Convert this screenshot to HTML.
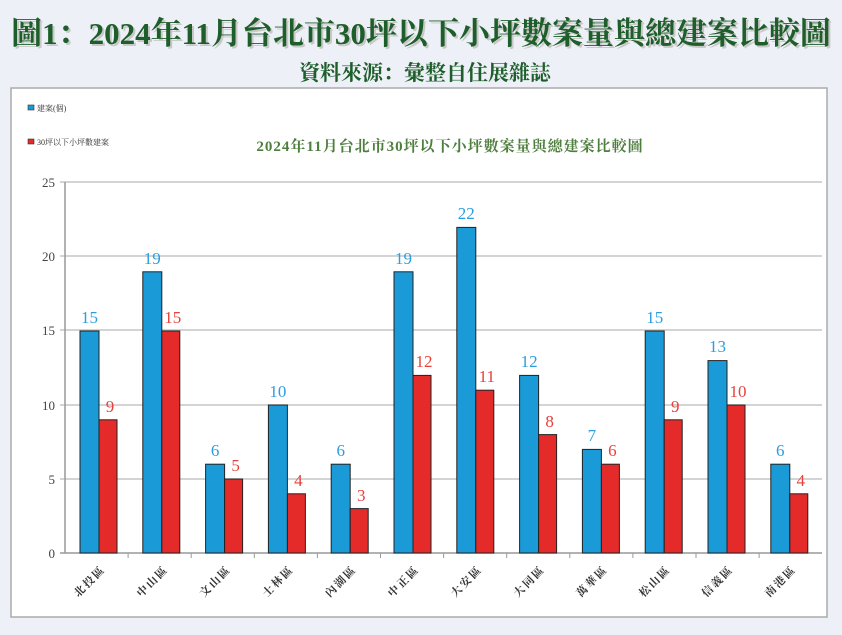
<!DOCTYPE html>
<html><head><meta charset="utf-8"><style>
body{margin:0;width:842px;height:630px;background:#eef0f7;overflow:hidden}
</style></head><body>
<svg width="842" height="630" xmlns="http://www.w3.org/2000/svg" font-family="'Liberation Serif','Noto Serif CJK SC',serif">
<rect width="842" height="630" fill="#eef0f7"/>
<text x="421" y="44" text-anchor="middle" font-size="31" font-weight="bold" fill="#c8c8c8" transform="translate(2,2)">圖1：2024年11月台北市30坪以下小坪數案量與總建案比較圖</text>
<text x="421" y="44" text-anchor="middle" font-size="31" font-weight="bold" fill="#1d5e2a">圖1：2024年11月台北市30坪以下小坪數案量與總建案比較圖</text>
<text x="425" y="80" text-anchor="middle" font-size="21" font-weight="bold" fill="#1d5e2a">資料來源：彙整自住展雜誌</text>
<rect x="11" y="88" width="816" height="529" fill="#fff" stroke="#aaa" stroke-width="1.5"/>
<rect x="28" y="105" width="6" height="5" fill="#1a9ad6" stroke="#333" stroke-width="0.6"/>
<text x="37" y="111" font-size="8" fill="#333">建案(個)</text>
<rect x="28" y="139" width="6" height="5" fill="#e52a2a" stroke="#333" stroke-width="0.6"/>
<text x="37" y="145" font-size="8" fill="#333">30坪以下小坪數建案</text>
<text x="450" y="151" text-anchor="middle" font-size="15" font-weight="bold" fill="#4e7e3e" letter-spacing="1">2024年11月台北市30坪以下小坪數案量與總建案比較圖</text>
<g stroke="#bbb" stroke-width="1.2">
<line x1="60" y1="182" x2="822" y2="182"/><line x1="60" y1="256" x2="822" y2="256"/>
<line x1="60" y1="330" x2="822" y2="330"/><line x1="60" y1="405" x2="822" y2="405"/>
<line x1="60" y1="479" x2="822" y2="479"/>
</g>
<line x1="65" y1="182" x2="65" y2="553" stroke="#999" stroke-width="1.5"/>
<line x1="60" y1="553" x2="822" y2="553" stroke="#999" stroke-width="1.5"/>
<g font-size="13" fill="#444" text-anchor="end">
<text x="55" y="187">25</text><text x="55" y="261">20</text><text x="55" y="335">15</text>
<text x="55" y="410">10</text><text x="55" y="484">5</text><text x="55" y="558">0</text>
</g>
<g stroke="#999">
<line x1="128.1" y1="553" x2="128.1" y2="558"/><line x1="191.2" y1="553" x2="191.2" y2="558"/>
<line x1="254.3" y1="553" x2="254.3" y2="558"/><line x1="317.4" y1="553" x2="317.4" y2="558"/>
<line x1="380.5" y1="553" x2="380.5" y2="558"/><line x1="443.6" y1="553" x2="443.6" y2="558"/>
<line x1="506.7" y1="553" x2="506.7" y2="558"/><line x1="569.8" y1="553" x2="569.8" y2="558"/>
<line x1="632.9" y1="553" x2="632.9" y2="558"/><line x1="696" y1="553" x2="696" y2="558"/>
<line x1="759.1" y1="553" x2="759.1" y2="558"/>
</g>
<g fill="#1a9ad6" stroke="#222" stroke-width="1">
<rect x="80" y="331" width="19" height="222"/>
<rect x="142.8" y="271.8" width="19" height="281.2"/>
<rect x="205.6" y="464.2" width="19" height="88.8"/>
<rect x="268.4" y="405" width="19" height="148"/>
<rect x="331.2" y="464.2" width="19" height="88.8"/>
<rect x="394" y="271.8" width="19" height="281.2"/>
<rect x="456.8" y="227.4" width="19" height="325.6"/>
<rect x="519.6" y="375.4" width="19" height="177.6"/>
<rect x="582.4" y="449.4" width="19" height="103.6"/>
<rect x="645.2" y="331" width="19" height="222"/>
<rect x="708" y="360.6" width="19" height="192.4"/>
<rect x="770.8" y="464.2" width="19" height="88.8"/>
</g>
<g fill="#e52a2a" stroke="#222" stroke-width="1">
<rect x="99" y="419.8" width="18" height="133.2"/>
<rect x="161.8" y="331" width="18" height="222"/>
<rect x="224.6" y="479" width="18" height="74"/>
<rect x="287.4" y="493.8" width="18" height="59.2"/>
<rect x="350.2" y="508.6" width="18" height="44.4"/>
<rect x="413" y="375.4" width="18" height="177.6"/>
<rect x="475.8" y="390.2" width="18" height="162.8"/>
<rect x="538.6" y="434.6" width="18" height="118.4"/>
<rect x="601.4" y="464.2" width="18" height="88.8"/>
<rect x="664.2" y="419.8" width="18" height="133.2"/>
<rect x="727" y="405" width="18" height="148"/>
<rect x="789.8" y="493.8" width="18" height="59.2"/>
</g>
<g font-size="17" fill="#2a9ee0" text-anchor="middle">
<text x="89.5" y="323">15</text><text x="152.3" y="264">19</text><text x="215.1" y="456">6</text>
<text x="277.9" y="397">10</text><text x="340.7" y="456">6</text><text x="403.5" y="264">19</text>
<text x="466.3" y="219">22</text><text x="529.1" y="367">12</text><text x="591.9" y="441">7</text>
<text x="654.7" y="323">15</text><text x="717.5" y="352">13</text><text x="780.3" y="456">6</text>
</g>
<g font-size="17" fill="#e8403a" text-anchor="middle">
<text x="110" y="412">9</text><text x="172.8" y="323">15</text><text x="235.6" y="471">5</text>
<text x="298.4" y="486">4</text><text x="361.2" y="501">3</text><text x="424" y="367">12</text>
<text x="486.8" y="382">11</text><text x="549.6" y="427">8</text><text x="612.4" y="456">6</text>
<text x="675.2" y="412">9</text><text x="738" y="397">10</text><text x="800.8" y="486">4</text>
</g>
<g font-size="11" font-weight="bold" fill="#333" text-anchor="end" letter-spacing="2">
<text x="106" y="570" transform="rotate(-45 106 570)">北投區</text>
<text x="168.8" y="570" transform="rotate(-45 168.8 570)">中山區</text>
<text x="231.6" y="570" transform="rotate(-45 231.6 570)">文山區</text>
<text x="294.4" y="570" transform="rotate(-45 294.4 570)">士林區</text>
<text x="357.2" y="570" transform="rotate(-45 357.2 570)">內湖區</text>
<text x="420" y="570" transform="rotate(-45 420 570)">中正區</text>
<text x="482.8" y="570" transform="rotate(-45 482.8 570)">大安區</text>
<text x="545.6" y="570" transform="rotate(-45 545.6 570)">大同區</text>
<text x="608.4" y="570" transform="rotate(-45 608.4 570)">萬華區</text>
<text x="671.2" y="570" transform="rotate(-45 671.2 570)">松山區</text>
<text x="734" y="570" transform="rotate(-45 734 570)">信義區</text>
<text x="796.8" y="570" transform="rotate(-45 796.8 570)">南港區</text>
</g>
</svg>
</body></html>
